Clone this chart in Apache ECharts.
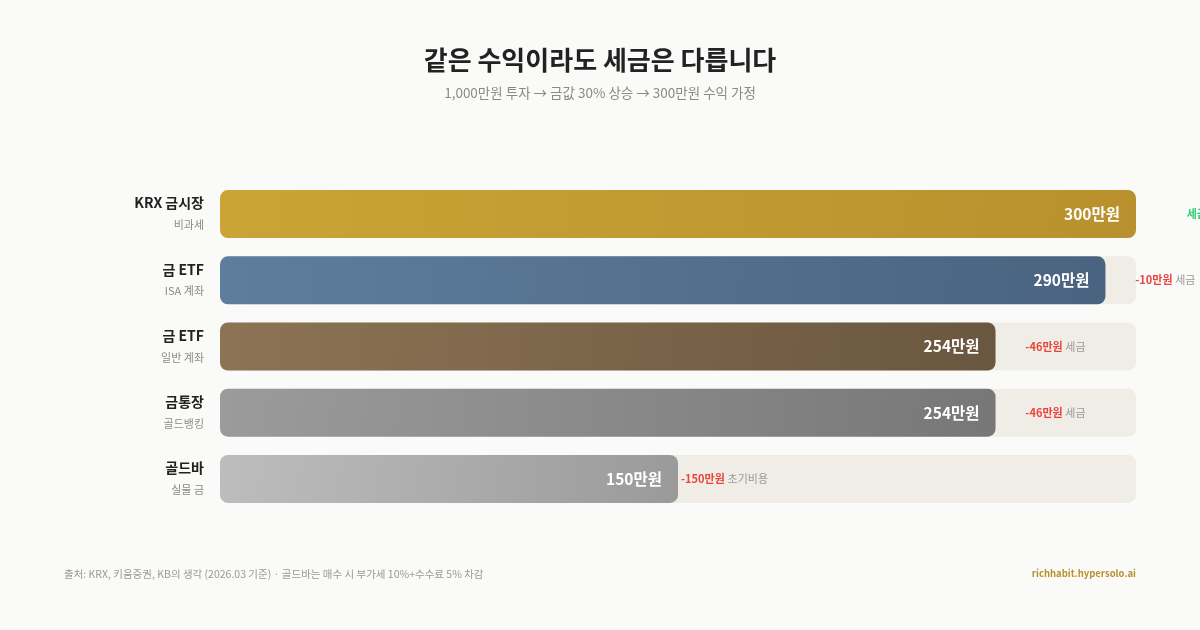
<!DOCTYPE html>
<html><head><meta charset="utf-8">
<script src="https://cdn.jsdelivr.net/npm/echarts@6/dist/echarts.min.js"></script>
<style>html,body{margin:0;padding:0;background:#fafaf8;}#c{width:1200px;height:630px;}</style>
</head><body><div id="c"></div>
<script>
const categories = ['KRX 금시장', '금 ETF', '금 ETF', '금통장', '골드바'];
const subLabels = ['비과세', 'ISA 계좌', '일반 계좌', '골드뱅킹', '실물 금'];
const profits = [300, 290, 254, 254, 150];
const fullProfit = [300, 300, 300, 300, 300];
const lossTexts = ['', '-10만원', '-46만원', '-46만원', '-150만원'];
const lossKinds = ['세금 0원', '세금', '세금', '세금', '초기비용'];
const barColors = [['#caa434', '#b8912e'], ['#5e7d9d', '#496380'], ['#8c7354', '#6a573f'], ['#9b9b9b', '#777777'], ['#bdbdbd', '#9a9a9a']];

const FONT = '"Noto Sans CJK KR", "Noto Sans", sans-serif';
const chart = echarts.init(document.getElementById('c'));
chart.setOption({
  backgroundColor: '#fafaf8',
  textStyle: { fontFamily: FONT },
  grid: { left: 220, right: 64, top: 181, bottom: 118 },
  xAxis: { type: 'value', min: 0, max: 300, show: false },
  yAxis: {
    type: 'category', inverse: true, data: categories,
    axisLine: { show: false }, axisTick: { show: false }, splitLine: { show: false },
    axisLabel: {
      margin: 16,
      formatter: (v, i) => '{n|' + categories[i] + '}\n{s|' + subLabels[i] + '}',
      rich: {
        n: { fontSize: 14, fontWeight: 'bold', color: '#222', lineHeight: 22, fontFamily: FONT, align: 'right' },
        s: { fontSize: 11, color: '#8a8a8a', lineHeight: 22, fontFamily: FONT, align: 'right' }
      }
    }
  },
  graphic: [
    { type: 'text', left: 'center', top: 47, style: { text: '같은 수익이라도 세금은 다릅니다', fontSize: 26, fontWeight: 'bold', fill: '#222', fontFamily: FONT } },
    { type: 'text', left: 'center', top: 86, style: { text: '1,000만원 투자 → 금값 30% 상승 → 300만원 수익 가정', fontSize: 13.5, fill: '#8a8a8a', fontFamily: FONT } },
    { type: 'text', left: 64, top: 569, style: { text: '출처: KRX, 키움증권, KB의 생각 (2026.03 기준) · 골드바는 매수 시 부가세 10%+수수료 5% 차감', fontSize: 10.5, fill: '#999', fontFamily: FONT } },
    { type: 'text', right: 64, top: 569, style: { text: 'richhabit.hypersolo.ai', fontSize: 9.5, fontWeight: 'bold', fill: '#b8912e', fontFamily: FONT } }
  ],
  series: [
    {
      type: 'bar', data: fullProfit, barWidth: 48, barGap: '-100%', silent: true, z: 1,
      itemStyle: { color: '#f0ede6', borderRadius: 8 }
    },
    {
      type: 'bar', barWidth: 48, barGap: '-100%', z: 2,
      data: profits.map((v, i) => ({
        value: v,
        itemStyle: {
          borderRadius: 8,
          color: { type: 'linear', x: 0, y: 0, x2: 1, y2: 1, colorStops: [{ offset: 0, color: barColors[i][0] }, { offset: 1, color: barColors[i][1] }] }
        }
      })),
      label: {
        show: true, position: 'insideRight', distance: 16,
        formatter: p => p.value + '만원',
        color: '#fff', fontSize: 15.5, fontWeight: 'bold', fontFamily: FONT
      }
    },
    {
      type: 'bar', barWidth: 48, barGap: '-100%', z: 3, silent: true,
      data: profits, itemStyle: { color: 'rgba(0,0,0,0)' },
      label: {
        show: true, position: 'right', distance: 90, align: 'right',
        formatter: p => {
          const i = p.dataIndex;
          if (!lossTexts[i]) return '{g|' + lossKinds[i] + '}';
          return '{r|' + lossTexts[i] + '} {k|' + lossKinds[i] + '}';
        },
        rich: {
          r: { color: '#e8453c', fontSize: 11, fontWeight: 'bold', fontFamily: FONT },
          k: { color: '#999', fontSize: 11, fontFamily: FONT },
          g: { color: '#2ecc71', fontSize: 11, fontWeight: 'bold', fontFamily: FONT }
        }
      }
    }
  ]
});
</script></body></html>
